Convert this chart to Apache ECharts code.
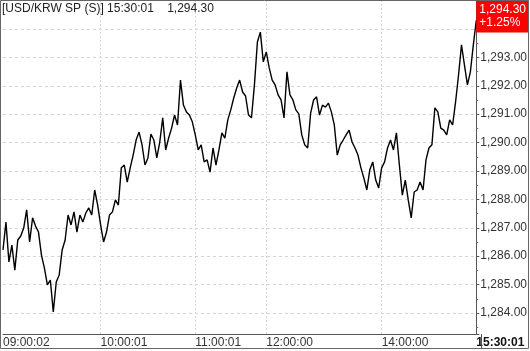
<!DOCTYPE html>
<html><head><meta charset="utf-8">
<script src="https://cdn.jsdelivr.net/npm/echarts@6/dist/echarts.min.js"></script>
<style>html,body{margin:0;padding:0;background:#fff}#c{width:530px;height:351px}</style>
</head><body><div id="c"></div>
<script>
// Time labels at the category indices where they appear
const labelIndex = [0, 33, 65, 89, 128, 160];
const labelText = ['09:00:02', '10:00:01', '11:00:01', '12:00:00', '14:00:00', '15:30:01'];
const prevClose = 1278.32;
const prices = [
1286.22,1287.20,1285.80,1286.39,1285.51,1286.57,1286.71,1286.99,1287.63,1286.50,
1287.35,1287.06,1286.85,1286.04,1285.58,1284.99,1285.16,1284.04,1285.09,1285.34,
1286.22,1286.57,1287.45,1287.10,1287.56,1286.85,1287.45,1287.20,1287.52,1287.70,
1287.45,1288.33,1287.80,1287.10,1286.50,1286.85,1287.45,1287.56,1287.98,1287.80,
1289.11,1289.21,1288.61,1289.11,1289.56,1290.09,1290.37,1289.92,1289.21,1289.46,
1290.30,1290.09,1289.46,1290.02,1290.87,1289.74,1290.16,1290.51,1290.97,1290.62,
1292.20,1291.32,1291.08,1290.97,1290.73,1290.27,1289.74,1289.92,1289.32,1289.39,
1288.96,1289.81,1289.21,1289.74,1290.34,1290.16,1290.80,1291.15,1291.57,1291.92,
1292.20,1291.78,1291.64,1290.97,1290.87,1292.03,1293.54,1293.89,1292.84,1293.19,
1292.63,1292.20,1292.03,1291.68,1291.50,1290.87,1292.49,1291.68,1291.50,1291.15,
1291.01,1290.27,1289.92,1289.81,1291.04,1291.50,1291.61,1290.97,1291.32,1291.25,
1291.39,1291.08,1290.62,1289.56,1289.92,1290.09,1290.27,1290.44,1290.02,1289.81,
1289.56,1289.11,1288.75,1288.33,1289.04,1289.32,1288.68,1288.40,1289.11,1289.32,
1289.81,1290.09,1289.74,1290.34,1289.21,1288.15,1288.68,1287.98,1287.35,1288.26,
1288.33,1288.61,1288.33,1289.39,1289.81,1289.92,1291.22,1291.08,1290.51,1290.44,
1290.27,1290.80,1290.62,1291.43,1292.38,1293.44,1292.73,1292.03,1292.49,1293.44,
1294.30
];
const categories = prices.map((_, i) => {
  const k = labelIndex.indexOf(i);
  return k >= 0 ? labelText[k] : String(i);
});
const fmt = v => v.toLocaleString('en-US', {minimumFractionDigits: 2, maximumFractionDigits: 2});
const last = prices[prices.length - 1];
const chg = (last - prevClose) / prevClose * 100;
const isLabel = (i) => labelIndex.indexOf(i) >= 0;
const FONT = '"Liberation Sans", Arial, sans-serif';

const chart = echarts.init(document.getElementById('c'), null, {renderer: 'canvas'});
chart.setOption({
  animation: false,
  title: {
    text: '[USD/KRW SP (S)] 15:30:01    ' + fmt(last),
    left: 2, top: 3, padding: 0,
    textStyle: {fontSize: 12, fontWeight: 'normal', color: '#222', fontFamily: FONT}
  },
  grid: {left: 1, right: 49, top: 0, bottom: 17, show: false},
  xAxis: {
    type: 'category', data: categories, boundaryGap: false,
    axisLine: {show: true, lineStyle: {color: '#555', width: 1}},
    axisTick: {show: false},
    axisLabel: {
      interval: (i) => isLabel(i), align: 'left', margin: 3,
      fontSize: 12, color: '#333', fontFamily: FONT,
      formatter: (v, i) => i === prices.length - 1 ? '{b|' + v + '}' : v,
      rich: {b: {fontWeight: 'bold', fontSize: 12, color: '#111', fontFamily: FONT}}
    },
    splitLine: {show: true, interval: (i) => isLabel(i) && i !== 0 && i !== prices.length - 1,
      lineStyle: {color: '#d4d4d4', type: [2, 2], width: 1}}
  },
  yAxis: {
    type: 'value', position: 'right',
    min: 1283.26, max: 1295.02, splitNumber: 12,
    axisLine: {show: true, lineStyle: {color: '#555', width: 1}},
    axisTick: {show: true, length: 3, lineStyle: {color: '#555'}},
    minorTick: {show: true, splitNumber: 2, length: 2, lineStyle: {color: '#777'}},
    axisLabel: {
      margin: 4, fontSize: 12, color: '#333', fontFamily: FONT,
      showMinLabel: false, showMaxLabel: false,
      formatter: v => (Math.abs(v - Math.round(v)) > 0.01 || v > 1293.5) ? '' : fmt(v)
    },
    splitLine: {show: true, lineStyle: {color: '#d4d4d4', type: [3, 3], width: 1}}
  },
  series: [{
    type: 'line', data: prices, symbol: 'none',
    lineStyle: {color: '#000', width: 1.4},
    markLine: {
      silent: true, symbol: 'none',
      data: [{yAxis: last}],
      lineStyle: {color: 'rgba(0,0,0,0)', width: 0},
      label: {
        show: true, position: 'end', distance: 0, offset: [0, -4],
        backgroundColor: '#ff0000', color: '#fff', padding: [3, 3, 3, 3],
        fontSize: 12, lineHeight: 13, fontFamily: FONT, align: 'left',
        formatter: () => fmt(last) + '\n' + (chg >= 0 ? '+' : '') + chg.toFixed(2) + '%'
      }
    }
  }],
  graphic: [
    {type: 'rect', shape: {x: 0.5, y: 0.5, width: 528, height: 348}, style: {fill: 'none', stroke: '#666', lineWidth: 1}, z: 100},
    {type: 'line', shape: {x1: 481.5, y1: 334, x2: 481.5, y2: 349}, style: {stroke: '#555', lineWidth: 1}, z: 100}
  ]
});
</script></body></html>
